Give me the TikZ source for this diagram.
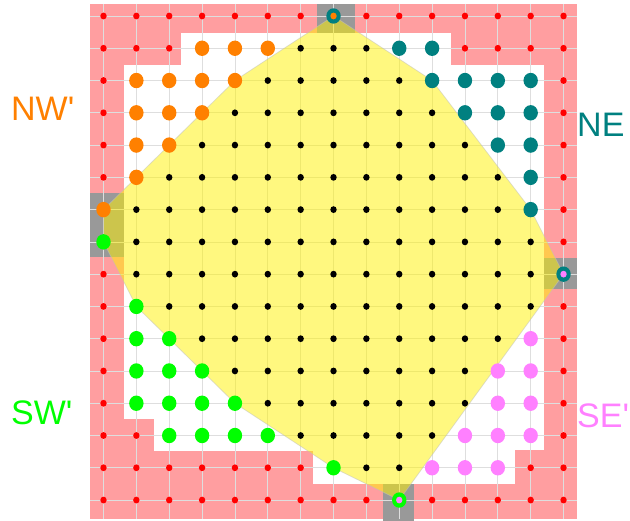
\documentclass[tikz,border=0pt]{standalone}
\usepackage{fontspec}
\newfontfamily\labfont{Liberation Sans}[Ligatures=TeXOff]
\definecolor{pinkbg}{RGB}{255,158,160}
\definecolor{graycell}{RGB}{153,153,153}
\definecolor{gridc}{RGB}{222,222,222}
\definecolor{orng}{RGB}{255,128,0}
\definecolor{tealc}{RGB}{0,128,128}
\definecolor{grn}{RGB}{0,255,0}
\definecolor{pnk}{RGB}{255,128,255}
\definecolor{reddot}{RGB}{255,0,0}
\tikzset{
  pinkcell/.style={fill=pinkbg},
  greycell/.style={fill=graycell},
  gridline/.style={draw=gridc, line width=0.7pt},
  hull/.style={fill=yellow, fill opacity=0.5, draw=gray!50, draw opacity=0.5, line width=0.8pt},
  lab/.style={font=\labfont\fontsize{34}{40}\selectfont, inner sep=0pt, anchor=west},
}
\newcommand\smalldot[2]{\fill[#1] (#2) ellipse[x radius=3.2pt, y radius=3.4pt];}
\newcommand\bigdot[2]{\fill[#1] (#2) ellipse[x radius=7.2pt, y radius=7.7pt];}
\begin{document}
\begin{tikzpicture}[x=1pt,y=-1pt]
\useasboundingbox (0,0) rectangle (630,521);
% grid point names
\foreach \c in {0,...,14}{
  \foreach \r in {0,...,15}{
    \coordinate (g-\c-\r) at ({103.5+32.86*\c},{16+32.27*\r});
  }
}
% pink border cells
\fill[pinkcell] (89.5,4) rectangle (577,33);
\fill[pinkcell] (89.5,33) rectangle (181,65);
\fill[pinkcell] (451,33) rectangle (577,65);
\fill[pinkcell] (89.5,65) rectangle (123.5,519);
\fill[pinkcell] (544,65) rectangle (577,519);
\fill[pinkcell] (89.5,419) rectangle (154,452);
\fill[pinkcell] (89.5,451) rectangle (313,519);
\fill[pinkcell] (515,450) rectangle (577,519);
\fill[pinkcell] (89.5,484) rectangle (577,519);
% grey cells
\fill[greycell] (317,4) rectangle (355,33);
\fill[greycell] (89.5,193) rectangle (123.5,257);
\fill[greycell] (544,258) rectangle (577,289);
\fill[greycell] (383,484) rectangle (414,521);
% grid
\foreach \c in {0,...,14}{
  \draw[gridline] (g-\c-0 |- 0,4) -- (g-\c-0 |- 0,519);
}
\foreach \r in {0,...,15}{
  \draw[gridline] (g-0-\r -| 89.5,0) -- (g-0-\r -| 577,0);
}
% hull
\path[hull] (g-7-0) -- (g-10-2) -- (g-13-6) -- (g-14-8) -- (g-9-15) -- (g-7-14)
  -- (g-4-12) -- (g-1-9) -- (g-0-7) -- (g-0-6) -- (g-4-2) -- cycle;
% red dots
\foreach \r/\a/\b in {0/0/6, 0/8/14, 1/0/2, 1/11/14, 2/0/0, 2/14/14, 3/0/0, 3/14/14,
  4/0/0, 4/14/14, 5/0/0, 5/14/14, 6/14/14, 7/14/14, 8/0/0, 9/0/0, 9/14/14,
  10/0/0, 10/14/14, 11/0/0, 11/14/14, 12/0/0, 12/14/14, 13/0/1, 13/14/14,
  14/0/6, 14/13/14, 15/0/8, 15/10/14}{
  \foreach \c in {\a,...,\b}{ \smalldot{reddot}{g-\c-\r} }
}
% black dots
\foreach \r/\a/\b in {1/6/8, 2/5/9, 3/4/10, 4/3/11, 5/2/12, 6/1/12, 7/1/13, 8/1/13,
  9/2/13, 10/3/12, 11/4/11, 12/5/11, 13/6/10, 14/8/9}{
  \foreach \c in {\a,...,\b}{ \smalldot{black}{g-\c-\r} }
}
% orange
\foreach \r/\a/\b in {1/3/5, 2/1/4, 3/1/3, 4/1/2, 5/1/1, 6/0/0}{
  \foreach \c in {\a,...,\b}{ \bigdot{orng}{g-\c-\r} }
}
% teal
\foreach \r/\a/\b in {1/9/10, 2/10/13, 3/11/13, 4/12/13, 5/13/13, 6/13/13}{
  \foreach \c in {\a,...,\b}{ \bigdot{tealc}{g-\c-\r} }
}
% green
\foreach \r/\a/\b in {7/0/0, 9/1/1, 10/1/2, 11/1/3, 12/1/4, 13/2/5, 14/7/7}{
  \foreach \c in {\a,...,\b}{ \bigdot{grn}{g-\c-\r} }
}
% pink
\foreach \r/\a/\b in {10/13/13, 11/12/13, 12/12/13, 13/11/13, 14/10/12}{
  \foreach \c in {\a,...,\b}{ \bigdot{pnk}{g-\c-\r} }
}
% extreme points
\bigdot{tealc}{g-7-0}   \smalldot{orng}{g-7-0}
\bigdot{tealc}{g-14-8}  \smalldot{pnk}{g-14-8}
\bigdot{grn}{g-9-15}    \smalldot{pnk}{g-9-15}
% labels
\node[lab, text=orng]  (nw) at (11,109) {NW'};
\node[lab, text=tealc] (ne) at (577,125) {NE};
\node[lab, text=grn]   (sw) at (11,413) {SW'};
\node[lab, text=pnk]   (se) at (577,416) {SE'};
\end{tikzpicture}
\end{document}
